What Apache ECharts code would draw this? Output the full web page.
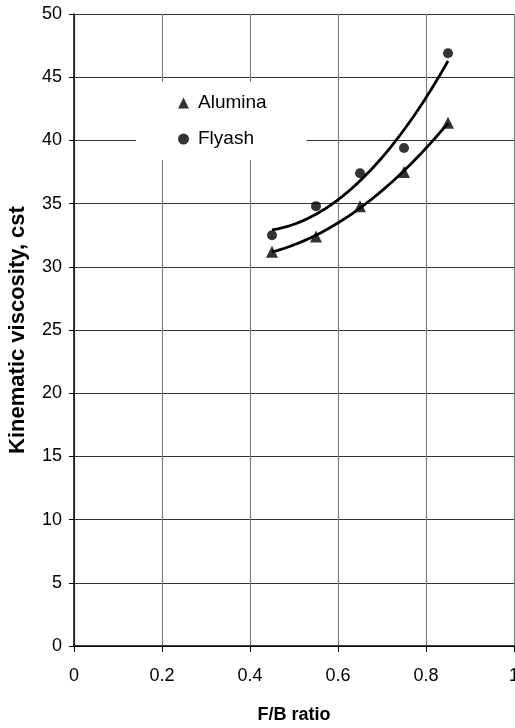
<!DOCTYPE html>
<html>
<head>
<meta charset="utf-8">
<script src="https://cdn.jsdelivr.net/npm/echarts@6/dist/echarts.min.js"></script>
<style>html,body{margin:0;padding:0;background:#fff;}#c{width:515px;height:728px;}</style>
</head>
<body>
<div id="c"></div>
<script>
const fbRatio = [0.45, 0.55, 0.65, 0.75, 0.85];
const alumina = [31.2, 32.4, 34.8, 37.5, 41.4];
const flyash = [32.5, 34.8, 37.4, 39.4, 46.9];
const xTicks = [0, 0.2, 0.4, 0.6, 0.8, 1];
const yTicks = [0, 5, 10, 15, 20, 25, 30, 35, 40, 45, 50];

// Quadratic least-squares trendline (as in the original spreadsheet chart)
function quadFit(xs, ys) {
  let n = xs.length, s = [0,0,0,0,0], t = [0,0,0];
  for (let i = 0; i < n; i++) {
    let p = 1;
    for (let k = 0; k < 5; k++) { s[k] += p; if (k < 3) t[k] += p * ys[i]; p *= xs[i]; }
  }
  const A = [[s[0],s[1],s[2],t[0]],[s[1],s[2],s[3],t[1]],[s[2],s[3],s[4],t[2]]];
  for (let i = 0; i < 3; i++) {
    for (let j = i + 1; j < 3; j++) {
      const f = A[j][i] / A[i][i];
      for (let k = i; k < 4; k++) A[j][k] -= f * A[i][k];
    }
  }
  const c = [0,0,0];
  for (let i = 2; i >= 0; i--) {
    let v = A[i][3];
    for (let k = i + 1; k < 3; k++) v -= A[i][k] * c[k];
    c[i] = v / A[i][i];
  }
  return c;
}
function trend(xs, ys) {
  const c = quadFit(xs, ys), out = [];
  const x0 = xs[0], x1 = xs[xs.length - 1], N = 60;
  for (let i = 0; i <= N; i++) {
    const x = x0 + (x1 - x0) * i / N;
    out.push([x, c[0] + c[1] * x + c[2] * x * x]);
  }
  return out;
}

const FONT = 'Liberation Sans';
const chart = echarts.init(document.getElementById('c'), null, {renderer: 'canvas'});
chart.setOption({
  animation: false,
  backgroundColor: '#fff',
  grid: {left: 74, right: 1, top: 14, bottom: 82, containLabel: false, outerBoundsMode: 'none'},
  xAxis: {
    type: 'value', min: xTicks[0], max: xTicks[xTicks.length - 1], interval: 0.2,
    name: 'F/B ratio', nameLocation: 'middle', nameGap: 60, nameMoveOverlap: false,
    nameTextStyle: {fontFamily: FONT, fontSize: 18, fontWeight: 'bold', color: '#000'},
    axisLine: {lineStyle: {color: '#000', width: 1.5}},
    axisTick: {show: true, length: 6, lineStyle: {color: '#000'}},
    axisLabel: {fontFamily: FONT, fontSize: 18, color: '#000', margin: 21,
      formatter: v => String(v)},
    splitLine: {show: true, lineStyle: {color: '#808080', width: 1.2}}
  },
  yAxis: {
    type: 'value', min: yTicks[0], max: yTicks[yTicks.length - 1], interval: 5,
    name: 'Kinematic viscosity, cst', nameLocation: 'middle', nameGap: 45, nameMoveOverlap: false,
    nameTextStyle: {fontFamily: FONT, fontSize: 22, fontWeight: 'bold', color: '#000'},
    axisLine: {lineStyle: {color: '#000', width: 1.5}},
    axisTick: {show: true, length: 5, lineStyle: {color: '#000'}},
    axisLabel: {fontFamily: FONT, fontSize: 18, color: '#000', margin: 12},
    splitLine: {show: true, lineStyle: {color: '#333', width: 1.2}}
  },
  legend: {
    orient: 'vertical', left: 136, top: 82,
    padding: [11, 40, 11, 42],
    backgroundColor: '#fff',
    itemWidth: 11, itemHeight: 11, itemGap: 16,
    textStyle: {fontFamily: FONT, fontSize: 19, color: '#000', lineHeight: 20, padding: [0, 0, 0, 4]},
    data: [
      {name: 'Alumina', icon: 'triangle'},
      {name: 'Flyash', icon: 'circle'}
    ]
  },
  series: [
    {
      name: 'Alumina trend', type: 'line', showSymbol: false, symbol: 'none',
      data: trend(fbRatio, alumina), lineStyle: {color: '#000', width: 2.8}, z: 2
    },
    {
      name: 'Flyash trend', type: 'line', showSymbol: false, symbol: 'none',
      data: trend(fbRatio, flyash), lineStyle: {color: '#000', width: 2.8}, z: 2
    },
    {
      name: 'Alumina', type: 'scatter', symbol: 'triangle', symbolSize: 12,
      itemStyle: {color: '#000'}, z: 3,
      data: fbRatio.map((x, i) => [x, alumina[i]])
    },
    {
      name: 'Flyash', type: 'scatter', symbol: 'circle', symbolSize: 10,
      itemStyle: {color: '#000'}, z: 3,
      data: fbRatio.map((x, i) => [x, flyash[i]])
    }
  ]
});
</script>
</body>
</html>
